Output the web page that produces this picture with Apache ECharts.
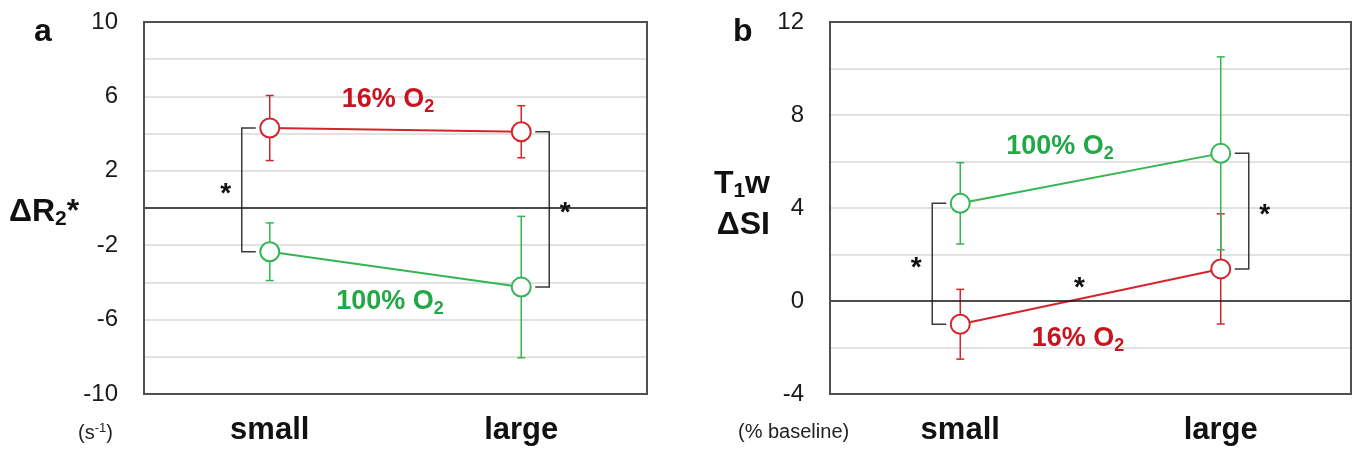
<!DOCTYPE html>
<html>
<head>
<meta charset="utf-8">
<script src="https://cdn.jsdelivr.net/npm/echarts@6.0.0/dist/echarts.min.js"></script>
<style>
html, body { margin: 0; padding: 0; background: #fff; }
#chart { width: 1360px; height: 458px; }
</style>
</head>
<body>
<div id="chart"></div>
<script>
var sizes = ['small', 'large'];

// a: ΔR2* (s-1)
var aLow = [4.3, 4.1];        // 16% O2
var aLowSd = [1.75, 1.4];
var aHigh = [-2.35, -4.25];   // 100% O2
var aHighSd = [1.55, 3.8];
var aTicks = [-10, -6, -2, 2, 6, 10];

// b: T1w ΔSI (% baseline)
var bLow = [-1.0, 1.38];      // 16% O2
var bLowSd = [1.5, 2.37];
var bHigh = [4.2, 6.35];      // 100% O2
var bHighSd = [1.75, 4.15];
var bTicks = [-4, 0, 4, 8, 12];

var RED = '#d2262c', GREEN = '#34b552';
var RED_TXT = '#c8141e', GREEN_TXT = '#22a846';
var FONT = '"Liberation Sans", Arial, sans-serif';

// plot boxes
var boxA = { left: 144, top: 22, width: 503, height: 372 };
var boxB = { left: 830, top: 22, width: 521, height: 372 };

var chart = echarts.init(document.getElementById('chart'));

function errorItem(params, api) {
    var x = api.value(0), m = api.value(1), sd = api.value(2);
    var hi = api.coord([x, m + sd]), lo = api.coord([x, m - sd]);
    var st = { stroke: api.visual('color'), lineWidth: 1.5 };
    return {
        type: 'group',
        children: [
            { type: 'line', shape: { x1: hi[0], y1: hi[1], x2: lo[0], y2: lo[1] }, style: st },
            { type: 'line', shape: { x1: hi[0] - 4, y1: hi[1], x2: hi[0] + 4, y2: hi[1] }, style: st },
            { type: 'line', shape: { x1: lo[0] - 4, y1: lo[1], x2: lo[0] + 4, y2: lo[1] }, style: st }
        ]
    };
}

// significance bracket between the two groups at each size
function bracketItem(params, api) {
    var i = api.value(0);
    var side = i === 0 ? -1 : 1;
    var p1 = api.coord([i, api.value(1)]), p2 = api.coord([i, api.value(2)]);
    var xv = p1[0] + side * 28, xt = p1[0] + side * 14;
    return {
        type: 'group',
        children: [
            {
                type: 'polyline',
                shape: { points: [[xt, p1[1]], [xv, p1[1]], [xv, p2[1]], [xt, p2[1]]] },
                style: { stroke: '#3a3a3a', lineWidth: 1.5, fill: null }
            },
            {
                type: 'text', x: xv + side * 16, y: (p1[1] + p2[1]) / 2 + 4,
                style: { text: '*', font: 'bold 28px ' + FONT, fill: '#111', align: 'center', verticalAlign: 'middle' }
            }
        ]
    };
}

function yAxis(idx, min, max, ticks) {
    return {
        type: 'value', gridIndex: idx, min: min, max: max, interval: 2,
        axisLine: { show: false }, axisTick: { show: false },
        axisLabel: {
            fontSize: 24, fontFamily: FONT, color: '#1a1a1a', margin: 26,
            formatter: function (v) { return ticks.indexOf(v) >= 0 ? String(v) : ''; }
        },
        splitLine: { lineStyle: { color: '#d9d9d9', width: 1.5 } }
    };
}

function xAxis(idx) {
    return {
        type: 'category', gridIndex: idx, data: sizes, boundaryGap: true,
        axisLine: { show: false }, axisTick: { show: false },
        axisLabel: { fontSize: 31, fontWeight: 'bold', fontFamily: FONT, color: '#111', margin: 21 },
        splitLine: { show: false }
    };
}

function pairs(vals, sds) {
    return vals.map(function (v, i) { return [i, v, sds[i]]; });
}

function panelSeries(idx, low, lowSd, high, highSd) {
    var zero = {
        silent: true, symbol: 'none', label: { show: false },
        lineStyle: { color: '#1a1a1a', width: 1.5, type: 'solid' },
        data: [{ yAxis: 0 }]
    };
    return [
        {
            type: 'custom', xAxisIndex: idx, yAxisIndex: idx, z: 1,
            itemStyle: { color: RED }, renderItem: errorItem, data: pairs(low, lowSd),
            markLine: zero
        },
        {
            type: 'custom', xAxisIndex: idx, yAxisIndex: idx, z: 1,
            itemStyle: { color: GREEN }, renderItem: errorItem, data: pairs(high, highSd)
        },
        {
            type: 'custom', xAxisIndex: idx, yAxisIndex: idx, z: 1,
            renderItem: bracketItem,
            data: sizes.map(function (s, i) { return [i, low[i], high[i]]; })
        },
        {
            name: '16% O2', type: 'line', xAxisIndex: idx, yAxisIndex: idx, z: 3,
            data: low, symbol: 'circle', symbolSize: 19,
            itemStyle: { color: '#fff', borderColor: RED, borderWidth: 2 },
            lineStyle: { color: RED, width: 2 }
        },
        {
            name: '100% O2', type: 'line', xAxisIndex: idx, yAxisIndex: idx, z: 3,
            data: high, symbol: 'circle', symbolSize: 19,
            itemStyle: { color: '#fff', borderColor: GREEN, borderWidth: 2 },
            lineStyle: { color: GREEN, width: 2 }
        }
    ];
}

chart.setOption({
    animation: false,
    grid: [
        Object.assign({ show: false }, boxA),
        Object.assign({ show: false }, boxB)
    ],
    xAxis: [xAxis(0), xAxis(1)],
    yAxis: [yAxis(0, -10, 10, aTicks), yAxis(1, -4, 12, bTicks)],
    series: panelSeries(0, aLow, aLowSd, aHigh, aHighSd)
        .concat(panelSeries(1, bLow, bLowSd, bHigh, bHighSd))
});

function txt(x, y, text, rich, align) {
    return {
        type: 'text', x: x, y: y, z: 10,
        style: { text: text, rich: rich, align: align || 'left', verticalAlign: 'middle' }
    };
}

function frame(b) {
    return {
        type: 'rect', z: 5, silent: true,
        shape: { x: b.left, y: b.top, width: b.width, height: b.height },
        style: { fill: null, stroke: '#505050', lineWidth: 2 }
    };
}

function o2Rich(color) {
    return {
        t: { fontSize: 27, fontWeight: 'bold', fontFamily: FONT, fill: color },
        s: { fontSize: 18, fontWeight: 'bold', fontFamily: FONT, fill: color, padding: [14, 0, 0, 0] }
    };
}

var titleRich = {
    b: { fontSize: 32, fontWeight: 'bold', fontFamily: FONT, fill: '#111' },
    s: { fontSize: 21, fontWeight: 'bold', fontFamily: FONT, fill: '#111', padding: [15, 0, 0, 0] },
    p: { fontSize: 32, fontWeight: 'bold', fontFamily: FONT, fill: '#111' },
    n: { fontSize: 20, fontFamily: FONT, fill: '#222' },
    u: { fontSize: 13, fontFamily: FONT, fill: '#222', padding: [0, 0, 10, 0] }
};

// star above the crossing of the 16% O2 line in panel b
var m0 = chart.convertToPixel({ xAxisIndex: 1, yAxisIndex: 1 }, [0, bLow[0]]);
var m1 = chart.convertToPixel({ xAxisIndex: 1, yAxisIndex: 1 }, [1, bLow[1]]);
var midX = (m0[0] + m1[0]) / 2, midY = (m0[1] + m1[1]) / 2;

chart.setOption({
    graphic: [
        frame(boxA),
        frame(boxB),
        txt(34, 32, '{p|a}', titleRich),
        txt(733, 32, '{p|b}', titleRich),
        txt(9, 212, '{b|ΔR}{s|2}{b|*}', titleRich),
        txt(770, 184, '{b|T}{s|1}{b|w}', titleRich, 'right'),
        txt(770, 225, '{b|ΔSI}', titleRich, 'right'),
        txt(78, 433, '{n|(s}{u|-1}{n|)}', titleRich),
        txt(738, 432, '{n|(% baseline)}', titleRich),
        txt(388, 100, '{t|16% O}{s|2}', o2Rich(RED_TXT), 'center'),
        txt(390, 302, '{t|100% O}{s|2}', o2Rich(GREEN_TXT), 'center'),
        txt(1060, 147, '{t|100% O}{s|2}', o2Rich(GREEN_TXT), 'center'),
        txt(1078, 339, '{t|16% O}{s|2}', o2Rich(RED_TXT), 'center'),
        {
            type: 'text', x: midX - 11, y: midY - 8, z: 10,
            style: { text: '*', font: 'bold 28px ' + FONT, fill: '#111', align: 'center', verticalAlign: 'middle' }
        }
    ]
});
</script>
</body>
</html>
